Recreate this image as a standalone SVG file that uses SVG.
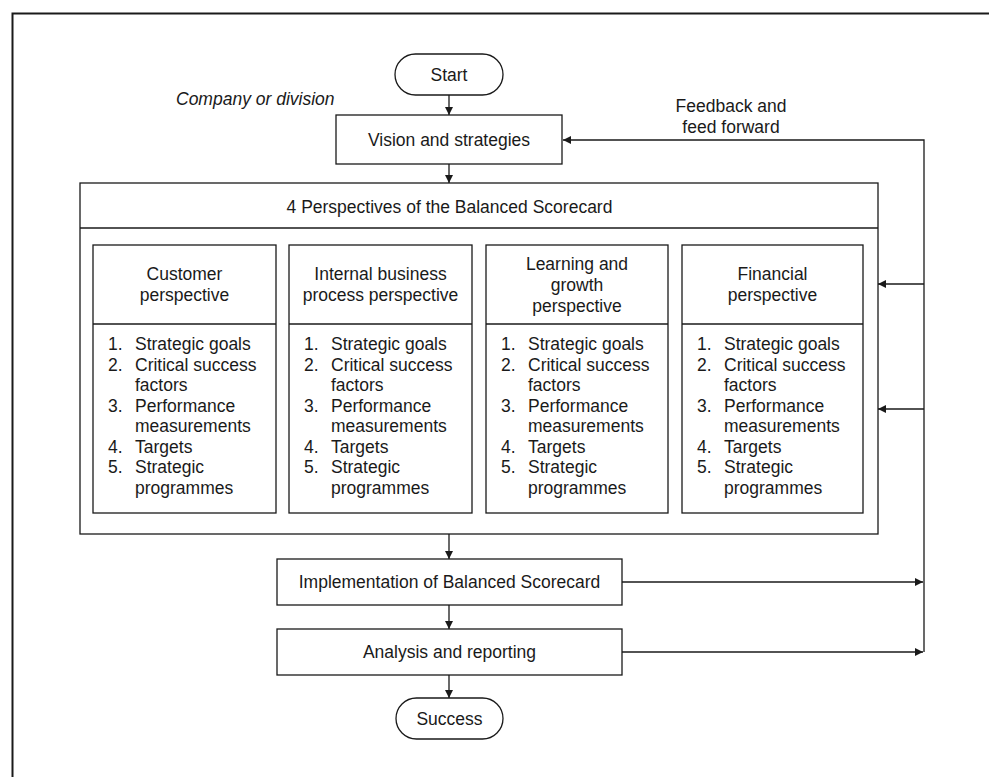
<svg xmlns="http://www.w3.org/2000/svg" width="989" height="777" viewBox="0 0 989 777">
<defs>
<style>
.s{fill:#fff;stroke:#1a1a1a;stroke-width:1.3}
.t{font-family:"Liberation Sans",Arial,sans-serif;font-size:17.5px;fill:#1a1a1a}
.c{text-anchor:middle}
.l{fill:none;stroke:#1a1a1a;stroke-width:1.3}
</style>
<marker id="ah" viewBox="0 0 10 10" refX="10" refY="5" markerWidth="8" markerHeight="8" markerUnits="userSpaceOnUse" orient="auto">
<path d="M0,0 L10,5 L0,10 z" fill="#1a1a1a"/>
</marker>
</defs>
<rect width="989" height="777" fill="#fff"/>
<path d="M12.5,777 V13.5 H989" fill="none" stroke="#1a1a1a" stroke-width="2"/>

<text class="t" x="176" y="105" font-style="italic">Company or division</text>
<text class="t c" x="731" y="112">Feedback and</text>
<text class="t c" x="731" y="133">feed forward</text>

<g id="connectors">
<line class="l" x1="449" y1="95" x2="449" y2="115" marker-end="url(#ah)"/>
<line class="l" x1="449" y1="164" x2="449" y2="183" marker-end="url(#ah)"/>
<line class="l" x1="449" y1="534" x2="449" y2="559" marker-end="url(#ah)"/>
<line class="l" x1="449" y1="605" x2="449" y2="629" marker-end="url(#ah)"/>
<line class="l" x1="449" y1="675" x2="449" y2="698" marker-end="url(#ah)"/>
<line class="l" x1="622" y1="582" x2="923" y2="582" marker-end="url(#ah)"/>
<line class="l" x1="622" y1="652" x2="923" y2="652" marker-end="url(#ah)"/>
<polyline class="l" points="924,652 924,140 563,140" marker-end="url(#ah)"/>
<line class="l" x1="924" y1="284" x2="878" y2="284" marker-end="url(#ah)"/>
<line class="l" x1="924" y1="409" x2="878" y2="409" marker-end="url(#ah)"/>
</g>

<g id="start">
<rect class="s" x="395" y="54" width="108" height="41" rx="20.5"/>
<text class="t c" x="449" y="81">Start</text>
</g>

<g id="vision">
<rect class="s" x="336" y="115" width="226" height="49"/>
<text class="t c" x="449" y="146">Vision and strategies</text>
</g>

<g id="perspectives">
<rect class="s" x="80" y="183" width="798" height="351"/>
<line class="l" x1="80" y1="228" x2="878" y2="228"/>
<text class="t c" x="449.5" y="213">4 Perspectives of the Balanced Scorecard</text>
</g>

<g id="customer">
<rect class="s" x="93" y="245" width="183" height="268"/>
<line class="l" x1="93" y1="324" x2="276" y2="324"/>
<text class="t c" x="184.5" y="280">Customer</text>
<text class="t c" x="184.5" y="301">perspective</text>
<g class="t">
<text x="108" y="350">1.</text><text x="135" y="350">Strategic goals</text>
<text x="108" y="370.5">2.</text><text x="135" y="370.5">Critical success</text>
<text x="135" y="391">factors</text>
<text x="108" y="411.5">3.</text><text x="135" y="411.5">Performance</text>
<text x="135" y="432">measurements</text>
<text x="108" y="452.5">4.</text><text x="135" y="452.5">Targets</text>
<text x="108" y="473">5.</text><text x="135" y="473">Strategic</text>
<text x="135" y="493.5">programmes</text>
</g>
</g>

<g id="internal">
<rect class="s" x="289" y="245" width="183" height="268"/>
<line class="l" x1="289" y1="324" x2="472" y2="324"/>
<text class="t c" x="380.5" y="280">Internal business</text>
<text class="t c" x="380.5" y="301">process perspective</text>
<g class="t">
<text x="304" y="350">1.</text><text x="331" y="350">Strategic goals</text>
<text x="304" y="370.5">2.</text><text x="331" y="370.5">Critical success</text>
<text x="331" y="391">factors</text>
<text x="304" y="411.5">3.</text><text x="331" y="411.5">Performance</text>
<text x="331" y="432">measurements</text>
<text x="304" y="452.5">4.</text><text x="331" y="452.5">Targets</text>
<text x="304" y="473">5.</text><text x="331" y="473">Strategic</text>
<text x="331" y="493.5">programmes</text>
</g>
</g>

<g id="learning">
<rect class="s" x="486" y="245" width="182" height="268"/>
<line class="l" x1="486" y1="324" x2="668" y2="324"/>
<text class="t c" x="577" y="270">Learning and</text>
<text class="t c" x="577" y="291">growth</text>
<text class="t c" x="577" y="312">perspective</text>
<g class="t">
<text x="501" y="350">1.</text><text x="528" y="350">Strategic goals</text>
<text x="501" y="370.5">2.</text><text x="528" y="370.5">Critical success</text>
<text x="528" y="391">factors</text>
<text x="501" y="411.5">3.</text><text x="528" y="411.5">Performance</text>
<text x="528" y="432">measurements</text>
<text x="501" y="452.5">4.</text><text x="528" y="452.5">Targets</text>
<text x="501" y="473">5.</text><text x="528" y="473">Strategic</text>
<text x="528" y="493.5">programmes</text>
</g>
</g>

<g id="financial">
<rect class="s" x="682" y="245" width="181" height="268"/>
<line class="l" x1="682" y1="324" x2="863" y2="324"/>
<text class="t c" x="772.5" y="280">Financial</text>
<text class="t c" x="772.5" y="301">perspective</text>
<g class="t">
<text x="697" y="350">1.</text><text x="724" y="350">Strategic goals</text>
<text x="697" y="370.5">2.</text><text x="724" y="370.5">Critical success</text>
<text x="724" y="391">factors</text>
<text x="697" y="411.5">3.</text><text x="724" y="411.5">Performance</text>
<text x="724" y="432">measurements</text>
<text x="697" y="452.5">4.</text><text x="724" y="452.5">Targets</text>
<text x="697" y="473">5.</text><text x="724" y="473">Strategic</text>
<text x="724" y="493.5">programmes</text>
</g>
</g>

<g id="implementation">
<rect class="s" x="277" y="559" width="345" height="46"/>
<text class="t c" x="449.5" y="588">Implementation of Balanced Scorecard</text>
</g>

<g id="analysis">
<rect class="s" x="277" y="629" width="345" height="46"/>
<text class="t c" x="449.5" y="658">Analysis and reporting</text>
</g>

<g id="success">
<rect class="s" x="396" y="698" width="107" height="41" rx="20.5"/>
<text class="t c" x="449.5" y="725">Success</text>
</g>
</svg>
